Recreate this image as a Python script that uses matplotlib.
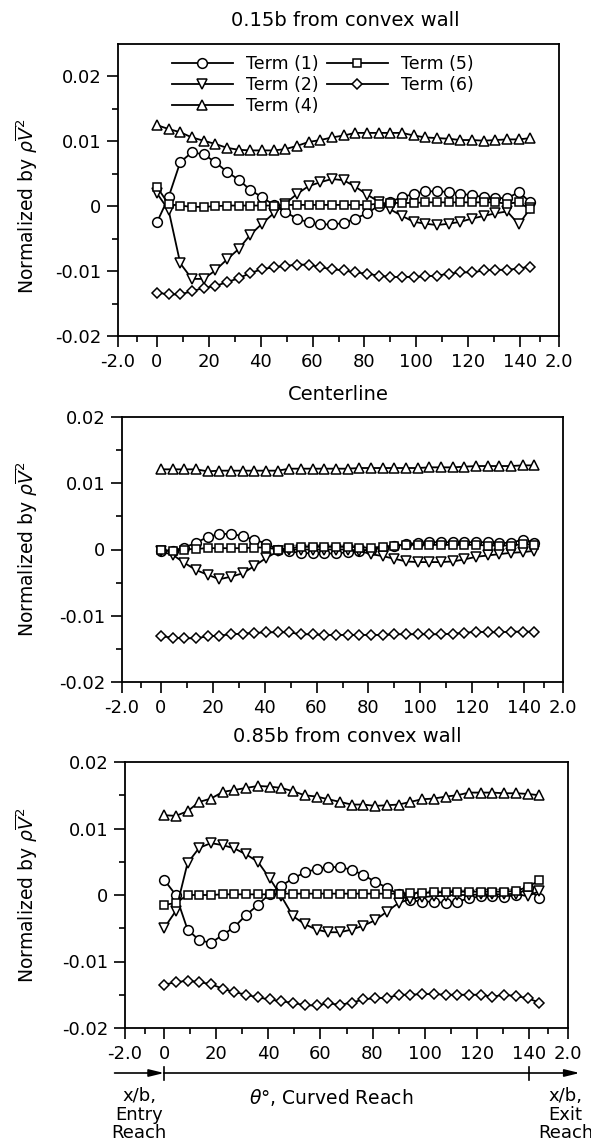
import matplotlib
matplotlib.use("Agg")
import matplotlib.pyplot as plt
import matplotlib.transforms as mtransforms
import numpy as np
from matplotlib.ticker import FixedLocator, FixedFormatter

plt.rcParams['font.family'] = ['DejaVu Sans']
plt.rcParams['axes.unicode_minus'] = False
plt.rcParams['mathtext.fontset'] = 'dejavusans'

# ---------------- data (values in units of 1e-3) ----------------
theta = [0, 4.5, 9, 13.5, 18, 22.5, 27, 31.5, 36, 40.5, 45, 49.5, 54, 58.5, 63,
         67.5, 72, 76.5, 81, 85.5, 90, 94.5, 99, 103.5, 108, 112.5, 117, 121.5,
         126, 130.5, 135, 139.5, 144]

top_t1 = [-2.5, 1.4, 6.8, 8.3, 8.0, 6.8, 5.3, 4.1, 2.5, 1.4, 0.2, -0.9, -1.9, -2.5, -2.8,
          -2.8, -2.6, -1.9, -1.1, 0.1, 0.7, 1.4, 1.9, 2.3, 2.3, 2.2, 1.9, 1.7, 1.4, 1.3,
          1.2, 2.2, 0.6]
top_t2 = [2.0, -0.6, -8.8, -11.2, -11.2, -9.9, -8.2, -6.6, -4.4, -2.7, -1.1, 0.4, 1.9, 3.1,
          3.7, 4.2, 4.0, 3.0, 1.8, 0.7, -0.5, -1.5, -2.4, -2.7, -2.9, -2.7, -2.4, -1.9, -1.5,
          -1.1, -0.8, -2.8, -0.3]
top_t4 = [12.5, 11.9, 11.4, 10.6, 10.1, 9.6, 9.0, 8.7, 8.6, 8.6, 8.6, 8.8, 9.3, 9.9, 10.2,
          10.6, 10.9, 11.3, 11.3, 11.3, 11.3, 11.3, 10.9, 10.6, 10.5, 10.4, 10.2, 10.2, 10.1,
          10.2, 10.3, 10.3, 10.5]
top_t5 = [3.0, 0.3, 0.1, -0.1, -0.1, 0.0, 0.1, 0.1, 0.1, 0.1, 0.1, 0.2, 0.2, 0.2, 0.2, 0.2,
          0.2, 0.2, 0.2, 0.4, 0.5, 0.5, 0.5, 0.6, 0.6, 0.6, 0.6, 0.6, 0.6, 0.6, 0.4, 0.6, -0.5]
top_t6 = [-13.3, -13.6, -13.6, -13.1, -12.6, -12.3, -11.7, -11.1, -10.3, -9.7, -9.4, -9.2,
          -9.0, -9.0, -9.4, -9.7, -9.9, -10.2, -10.4, -10.7, -10.9, -10.9, -10.9, -10.8,
          -10.7, -10.4, -10.2, -10.2, -9.9, -9.8, -9.8, -9.6, -9.3]

mid_t1 = [-0.2, -0.2, 0.3, 1.0, 1.9, 2.3, 2.4, 2.0, 1.5, 0.9, 0.0, -0.3, -0.5, -0.6, -0.6,
          -0.6, -0.4, -0.2, 0.0, 0.2, 0.5, 0.8, 1.0, 1.1, 1.1, 1.1, 1.1, 1.1, 1.1, 1.0, 1.0,
          1.5, 1.0]
mid_t2 = [-0.3, -0.8, -2.0, -3.1, -3.8, -4.5, -4.1, -3.6, -2.5, -1.3, -0.3, 0.0, 0.0, 0.0,
          0.0, 0.0, 0.0, -0.2, -0.7, -1.0, -1.4, -1.8, -1.9, -1.9, -1.9, -1.8, -1.5, -1.1,
          -0.9, -0.7, -0.5, -0.4, -0.2]
mid_t4 = [12.1, 12.1, 12.1, 12.1, 11.8, 11.9, 11.9, 11.9, 11.9, 11.9, 11.9, 12.2, 12.2, 12.2,
          12.2, 12.2, 12.2, 12.3, 12.3, 12.3, 12.3, 12.3, 12.3, 12.4, 12.4, 12.4, 12.5, 12.6,
          12.6, 12.6, 12.6, 12.7, 12.7]
mid_t5 = [-0.1, -0.2, 0.0, 0.1, 0.2, 0.2, 0.2, 0.2, 0.3, 0.3, 0.0, 0.2, 0.4, 0.4, 0.4, 0.4,
          0.4, 0.3, 0.3, 0.4, 0.6, 0.7, 0.7, 0.7, 0.7, 0.7, 0.7, 0.7, 0.6, 0.6, 0.6, 0.8, 0.7]
mid_t6 = [-13.1, -13.3, -13.4, -13.4, -13.1, -13.0, -12.8, -12.7, -12.6, -12.5, -12.5, -12.5,
          -12.8, -12.8, -12.9, -12.9, -12.9, -12.9, -12.9, -12.9, -12.8, -12.8, -12.8, -12.8,
          -12.8, -12.7, -12.6, -12.4, -12.5, -12.5, -12.4, -12.4, -12.4]

bot_t1 = [2.3, 0.0, -5.2, -6.8, -7.2, -6.0, -4.8, -3.0, -1.5, 0.2, 1.4, 2.5, 3.4, 3.9, 4.2,
          4.2, 3.8, 3.0, 2.0, 1.1, 0.1, -0.8, -1.0, -1.0, -1.2, -1.0, -0.5, -0.2, -0.2, -0.3,
          0.0, 1.0, -0.5]
bot_t2 = [-5.0, -2.4, 4.8, 7.1, 7.8, 7.5, 7.0, 6.1, 5.0, 2.5, -0.2, -3.2, -4.4, -5.2, -5.6,
          -5.6, -5.2, -4.6, -3.8, -2.5, -1.2, -0.6, -0.3, -0.2, -0.1, 0.0, 0.0, 0.1, 0.1, 0.1,
          0.2, -0.2, 0.6]
bot_t4 = [12.0, 11.9, 12.6, 14.0, 14.5, 15.5, 15.8, 16.1, 16.4, 16.3, 16.1, 15.6, 15.0, 14.8,
          14.4, 14.0, 13.6, 13.6, 13.4, 13.5, 13.6, 14.0, 14.4, 14.5, 14.8, 15.0, 15.4, 15.4,
          15.4, 15.3, 15.3, 15.2, 15.0]
bot_t5 = [-1.5, -1.2, 0.0, 0.0, 0.0, 0.1, 0.1, 0.1, 0.1, 0.1, 0.2, 0.2, 0.2, 0.2, 0.2, 0.2,
          0.2, 0.2, 0.2, 0.2, 0.2, 0.3, 0.3, 0.4, 0.4, 0.5, 0.5, 0.5, 0.5, 0.5, 0.6, 1.2, 2.2]
bot_t6 = [-13.5, -13.1, -12.9, -13.1, -13.4, -14.1, -14.6, -15.0, -15.4, -15.7, -16.0, -16.2,
          -16.6, -16.6, -16.3, -16.5, -16.2, -15.7, -15.5, -15.5, -15.0, -15.0, -14.9, -14.9,
          -15.0, -15.0, -15.0, -15.0, -15.3, -15.0, -15.2, -15.5, -16.2]

series_labels = ["Term (1)", "Term (2)", "Term (4)", "Term (5)", "Term (6)"]
panel_titles = ["0.15b from convex wall", "Centerline", "0.85b from convex wall"]
panels = [
    [top_t1, top_t2, top_t4, top_t5, top_t6],
    [mid_t1, mid_t2, mid_t4, mid_t5, mid_t6],
    [bot_t1, bot_t2, bot_t4, bot_t5, bot_t6],
]
SCALE = 1e-3

# x axis: composite (entry x/b, theta deg, exit x/b)
XB = 7.5  # plot units per x/b
xtick_pos = [-2 * XB, 0, 20, 40, 60, 80, 100, 120, 140, 140 + 2 * XB]
xtick_lab = ["-2.0", "0", "20", "40", "60", "80", "100", "120", "140", "2.0"]
xminor = [-XB, 10, 30, 50, 70, 90, 110, 130, 140 + XB]
ytick_pos = [-0.02, -0.01, 0.0, 0.01, 0.02]
ytick_lab = ["-0.02", "-0.01", "0", "0.01", "0.02"]
yminor = [-0.015, -0.005, 0.005, 0.015]

markers = ['o', 'v', '^', 's', 'D']
msizes = [7.0, 7.0, 7.0, 5.8, 5.4]

W, H = 591, 1146
fig = plt.figure(figsize=(W / 100, H / 100), dpi=100)

# axes boxes in pixels: left, top, right, bottom
boxes = [(118, 44, 559, 336), (122, 417, 563, 682), (125, 762, 568, 1028)]
ylims = [(-0.02, 0.025), (-0.02, 0.02), (-0.02, 0.02)]
title_pos = [(345, 20), (338, 395), (347, 737)]

axes = []
for i, (l, t, r, b) in enumerate(boxes):
    ax = fig.add_axes([l / W, 1 - b / H, (r - l) / W, (b - t) / H])
    axes.append(ax)
    handles = []
    for vals, m, ms, lab in zip(panels[i], markers, msizes, series_labels):
        h, = ax.plot(theta, np.array(vals) * SCALE, color='black', lw=1.3,
                     marker=m, ms=ms, mfc='white', mec='black', mew=1.1,
                     label=lab, clip_on=False)
        handles.append(h)
    ax.set_xlim(-2 * XB, 140 + 2 * XB)
    ax.set_ylim(*ylims[i])
    ax.xaxis.set_major_locator(FixedLocator(xtick_pos))
    ax.xaxis.set_major_formatter(FixedFormatter(xtick_lab))
    ax.xaxis.set_minor_locator(FixedLocator(xminor))
    ax.yaxis.set_major_locator(FixedLocator(ytick_pos))
    ax.yaxis.set_major_formatter(FixedFormatter(ytick_lab))
    ax.yaxis.set_minor_locator(FixedLocator(yminor))
    ax.tick_params(which='major', direction='out', length=8, width=1.2,
                   labelsize=13, pad=4, color='black')
    ax.tick_params(which='minor', direction='out', length=4.5, width=1.2)
    for s in ax.spines.values():
        s.set_linewidth(1.3)
    ax.set_ylabel(r'Normalized by $\rho\overline{V}^2$', fontsize=13.5)
    y0, y1 = ylims[i]
    ax.yaxis.set_label_coords((40 - l) / (r - l), (0 - y0) / (y1 - y0))
    tx, ty = title_pos[i]
    fig.text(tx / W, 1 - ty / H, panel_titles[i], ha='center', va='center', fontsize=14)
    if i == 0:
        ax.legend(handles=handles, ncol=2, loc='upper left',
                  bbox_to_anchor=((172 - l) / (r - l), 1 - (55 - t) / (b - t)),
                  frameon=False, fontsize=12.5, handlelength=3.5, handletextpad=0.75,
                  columnspacing=0.5, labelspacing=0.18, borderpad=0, borderaxespad=0)

# bottom annotation: reach arrows
ax3 = axes[2]
blend = mtransforms.blended_transform_factory(ax3.transData, fig.transFigure)
yl = 1 - 1073 / H
ap = dict(arrowstyle='-|>,head_length=0.9,head_width=0.22', lw=1.2, color='black',
          shrinkA=0, shrinkB=0)
ax3.annotate('', xy=(0, yl), xytext=(-19, yl), xycoords=blend, textcoords=blend,
             arrowprops=ap, annotation_clip=False)
ax3.annotate('', xy=(140 + 2 * XB + 4.5, yl), xytext=(140, yl), xycoords=blend,
             textcoords=blend, arrowprops=ap, annotation_clip=False)
ax3.plot([0, 140], [yl, yl], color='black', lw=1.2, transform=blend, clip_on=False)
for xv in [0, 140]:
    ax3.plot([xv, xv], [1 - 1067 / H, 1 - 1080 / H], color='black', lw=1.2,
             transform=blend, clip_on=False)

ytop = 1 - 1087 / H
ax3.text(-9.5, ytop, "x/b,\nEntry\nReach", transform=blend, ha='center', va='top',
         fontsize=13, linespacing=1.05)
ax3.text(64, 1 - 1097 / H, r"$\theta$°, Curved Reach", transform=blend, ha='center',
         va='center', fontsize=13.5)
ax3.text(154, ytop, "x/b,\nExit\nReach", transform=blend, ha='center', va='top',
         fontsize=13, linespacing=1.05)

fig.savefig("out.png", dpi=100)
